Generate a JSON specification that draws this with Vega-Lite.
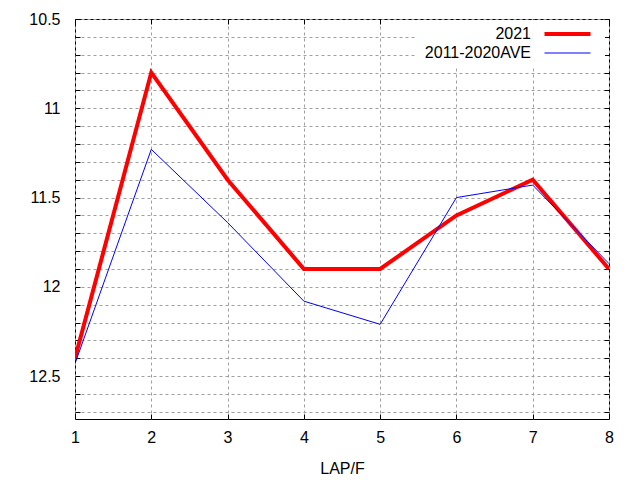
{
  "$schema": "https://vega.github.io/schema/vega-lite/v6.json",
  "autosize": "none",
  "padding": {"left": 75, "top": 19, "right": 31, "bottom": 61},
  "width": 534,
  "height": 400,
  "background": "white",
  "config": {
    "font": "Liberation Sans",
    "view": {"stroke": "black", "strokeWidth": 1},
    "axis": {
      "labelFont": "Liberation Sans",
      "labelFontSize": 16,
      "labelColor": "black",
      "titleFont": "Liberation Sans",
      "titleFontSize": 16,
      "titleFontWeight": "normal",
      "titleColor": "black",
      "domain": false,
      "tickColor": "black",
      "tickSize": -5,
      "gridColor": "#a0a0a0",
      "gridDash": [3, 3],
      "gridOpacity": 1,
      "gridWidth": 1
    }
  },
  "data": {
    "values": [
      {"lap": 1, "series": "2021", "time": 12.4},
      {"lap": 2, "series": "2021", "time": 10.8},
      {"lap": 3, "series": "2021", "time": 11.4},
      {"lap": 4, "series": "2021", "time": 11.9},
      {"lap": 5, "series": "2021", "time": 11.9},
      {"lap": 6, "series": "2021", "time": 11.6},
      {"lap": 7, "series": "2021", "time": 11.4},
      {"lap": 8, "series": "2021", "time": 11.9},
      {"lap": 1, "series": "2011-2020AVE", "time": 12.43},
      {"lap": 2, "series": "2011-2020AVE", "time": 11.23},
      {"lap": 3, "series": "2011-2020AVE", "time": 11.64},
      {"lap": 4, "series": "2011-2020AVE", "time": 12.08},
      {"lap": 5, "series": "2011-2020AVE", "time": 12.21},
      {"lap": 6, "series": "2011-2020AVE", "time": 11.5},
      {"lap": 7, "series": "2011-2020AVE", "time": 11.43},
      {"lap": 8, "series": "2011-2020AVE", "time": 11.87}
    ]
  },
  "layer": [
    {
      "mark": {"type": "line", "clip": true},
      "encoding": {
        "x": {
          "field": "lap",
          "type": "quantitative",
          "scale": {"domain": [1, 8], "nice": false, "zero": false},
          "axis": {
            "orient": "bottom",
            "title": "LAP/F",
            "values": [1, 2, 3, 4, 5, 6, 7, 8],
            "grid": true,
            "labelFlush": false,
            "labelPadding": 15,
            "titlePadding": 15
          }
        },
        "y": {
          "field": "time",
          "type": "quantitative",
          "scale": {"domain": [10.5, 12.74], "nice": false, "zero": false, "reverse": true},
          "axis": {
            "orient": "left",
            "title": null,
            "values": [10.5, 10.6, 10.7, 10.8, 10.9, 11, 11.1, 11.2, 11.3, 11.4, 11.5, 11.6, 11.7, 11.8, 11.9, 12, 12.1, 12.2, 12.3, 12.4, 12.5, 12.6, 12.7],
            "labelExpr": "abs(datum.value * 2 - round(datum.value * 2)) < 0.01 ? format(datum.value, '~g') : ''",
            "grid": true,
            "labelFlush": false,
            "labelPadding": 20
          }
        },
        "color": {
          "field": "series",
          "type": "nominal",
          "sort": ["2021", "2011-2020AVE"],
          "scale": {"domain": ["2021", "2011-2020AVE"], "range": ["#ff0000", "#0000ff"]},
          "legend": {
            "orient": "none",
            "legendX": 342,
            "legendY": 1,
            "title": null,
            "symbolType": "M22.7,0H31.9",
            "symbolSize": 100,
            "labelFont": "Liberation Sans",
            "labelFontSize": 16,
            "labelColor": "black",
            "labelAlign": "right",
            "labelOffset": 92,
            "rowPadding": 3,
            "fillColor": "white",
            "strokeColor": null,
            "padding": 6
          }
        },
        "strokeWidth": {
          "field": "series",
          "type": "nominal",
          "scale": {"domain": ["2021", "2011-2020AVE"], "range": [4, 1]},
          "legend": null
        }
      }
    },
    {
      "mark": {"type": "line", "opacity": 0},
      "encoding": {
        "x": {
          "field": "lap",
          "type": "quantitative",
          "axis": {
            "orient": "top",
            "title": null,
            "values": [1, 2, 3, 4, 5, 6, 7, 8],
            "labels": false,
            "grid": false
          }
        },
        "y": {
          "field": "time",
          "type": "quantitative",
          "axis": {
            "orient": "right",
            "title": null,
            "values": [10.5, 10.6, 10.7, 10.8, 10.9, 11, 11.1, 11.2, 11.3, 11.4, 11.5, 11.6, 11.7, 11.8, 11.9, 12, 12.1, 12.2, 12.3, 12.4, 12.5, 12.6, 12.7],
            "labels": false,
            "grid": false
          }
        },
        "detail": {"field": "series", "type": "nominal"}
      }
    }
  ],
  "resolve": {"axis": {"x": "independent", "y": "independent"}}
}
